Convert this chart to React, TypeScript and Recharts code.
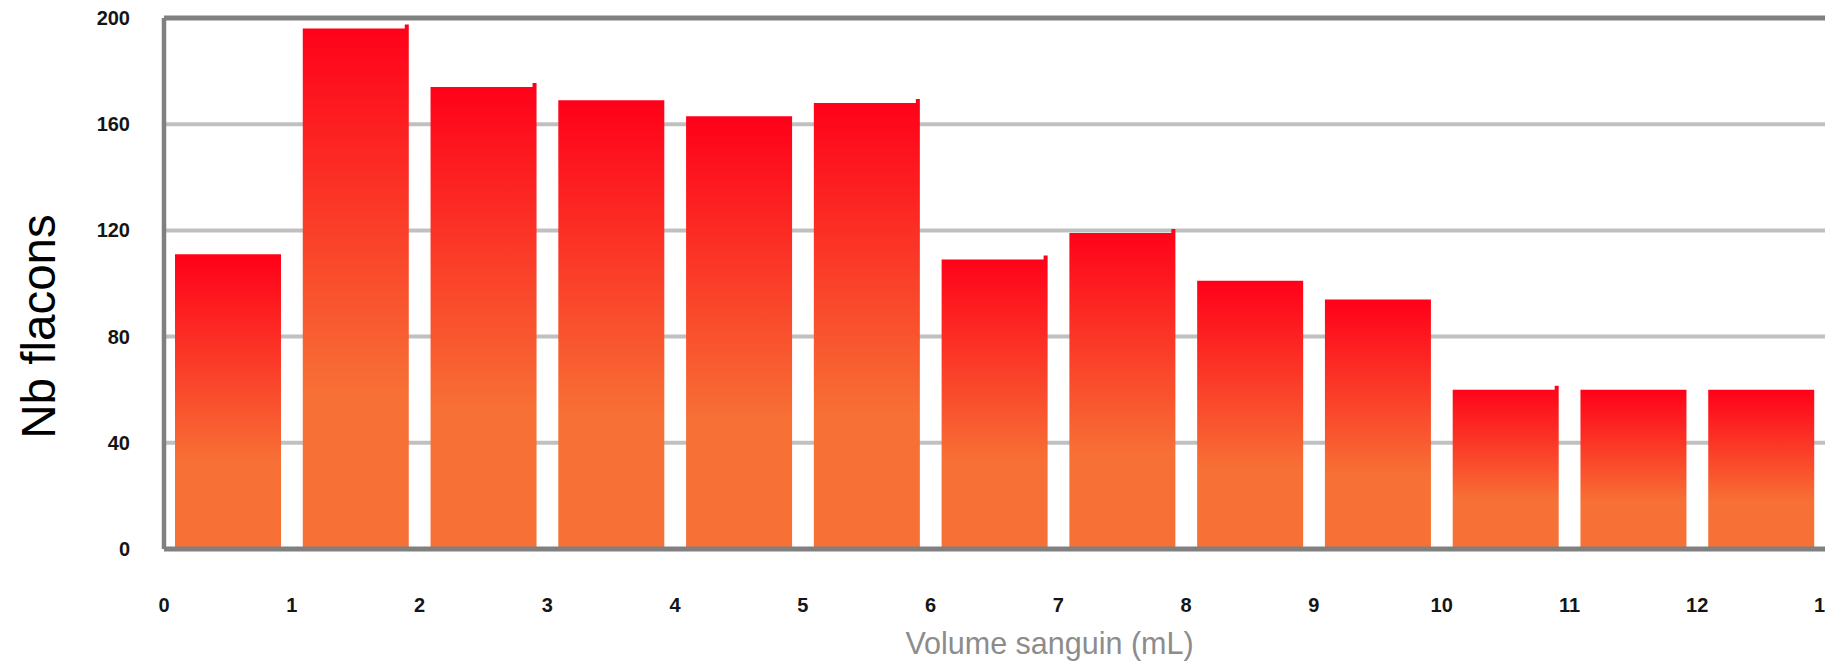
import React from 'react';
import { ComposedChart, Bar, XAxis, YAxis, CartesianGrid, ReferenceLine } from 'recharts';

const categories = ['0-1', '1-2', '2-3', '3-4', '4-5', '5-6', '6-7', '7-8', '8-9', '9-10', '10-11', '11-12', '12-13'];
const binStart = [0, 1, 2, 3, 4, 5, 6, 7, 8, 9, 10, 11, 12];
const counts = [111, 196, 174, 169, 163, 168, 109, 119, 101, 94, 60, 60, 60];
const xTickValues = [0, 1, 2, 3, 4, 5, 6, 7, 8, 9, 10, 11, 12, 13];
const xTickLabels = ['0', '1', '2', '3', '4', '5', '6', '7', '8', '9', '10', '11', '12', '13'];
const yTicks = [0, 40, 80, 120, 160, 200];
const notchedBars = [1, 2, 5, 6, 7, 10];

const xTitle = 'Volume sanguin (mL)';
const yTitle = 'Nb flacons';

const data = categories.map((c, i) => ({ cat: c, mid: binStart[i] + 0.5, count: counts[i] }));

const FONT = '"Liberation Sans", Arial, Helvetica, sans-serif';

const XTick = (props: any) => {
  const { x, y, payload } = props;
  const idx = xTickValues.indexOf(payload.value);
  const label = idx >= 0 ? xTickLabels[idx] : String(payload.value);
  return (
    <text
      x={x}
      y={y}
      textAnchor="middle"
      dominantBaseline="central"
      fontSize={20}
      fontWeight="bold"
      fontFamily={FONT}
      fill="#151515"
      clipPath="url(#tickClip)"
    >
      {label}
    </text>
  );
};

const YTick = (props: any) => {
  const { x, y, payload } = props;
  return (
    <text
      x={x - 16}
      y={y}
      textAnchor="end"
      dominantBaseline="central"
      fontSize={20}
      fontWeight="bold"
      fontFamily={FONT}
      fill="#151515"
    >
      {payload.value}
    </text>
  );
};

const BarShape = (props: any) => {
  const { x, y, width, height, index } = props;
  if (!height || height <= 0) return null;
  const n = notchedBars.includes(index);
  const s = 4;
  const d = n
    ? `M${x},${y + height} L${x},${y} L${x + width - s},${y} L${x + width - s},${y - s} L${x + width},${y - s} L${x + width},${y + height} Z`
    : `M${x},${y + height} L${x},${y} L${x + width},${y} L${x + width},${y + height} Z`;
  return <path d={d} fill="url(#barGrad)" />;
};

export default function App() {
  return (
    <ComposedChart
      width={1829}
      height={654}
      data={data}
      margin={{ top: 10, right: 12, bottom: 0, left: 0 }}
      barCategoryGap={11}
    >
      <defs>
        <linearGradient id="barGrad" x1="0" y1="0" x2="0" y2="1">
          <stop offset="0" stopColor="#ff0019" />
          <stop offset="0.7" stopColor="#f77035" />
          <stop offset="1" stopColor="#f77035" />
        </linearGradient>
        <clipPath id="tickClip">
          <rect x={0} y={0} width={1817} height={654} />
        </clipPath>
      </defs>
      <CartesianGrid xAxisId="num" vertical={false} stroke="#c0c0c0" strokeWidth={4} />
      <XAxis xAxisId="cat" dataKey="cat" hide orientation="top" height={0} />
      <XAxis
        xAxisId="num"
        dataKey="mid"
        type="number"
        domain={[0, 13]}
        allowDataOverflow={true}
        ticks={xTickValues}
        interval={0}
        height={113}
        tickSize={0}
        tickMargin={56}
        tickLine={false}
        axisLine={{ stroke: '#808080', strokeWidth: 5 }}
        tick={<XTick />}
        label={{
          content: (p: any) => {
            const vb = p.viewBox;
            return (
              <text
                x={vb.x + vb.width / 2 + 55}
                y={vb.y + 94}
                textAnchor="middle"
                dominantBaseline="central"
                fontSize={30.5}
                fontFamily={FONT}
                fill="#8c8c8c"
              >
                {xTitle}
              </text>
            );
          },
        }}
      />
      <YAxis
        domain={[0, 200]}
        ticks={yTicks}
        width={156}
        tickSize={0}
        tickMargin={18}
        tickLine={false}
        axisLine={{ stroke: '#808080', strokeWidth: 4.5 }}
        tick={<YTick />}
        label={{
          content: (p: any) => {
            const vb = p.viewBox;
            const cx = vb.x + 30;
            const cy = vb.y + vb.height / 2 + 43;
            return (
              <text
                x={cx}
                y={cy}
                transform={`rotate(-90, ${cx}, ${cy})`}
                textAnchor="middle"
                dominantBaseline="central"
                fontSize={47.5}
                fontFamily={FONT}
                fill="#000"
              >
                {yTitle}
              </text>
            );
          },
        }}
      />
      <ReferenceLine xAxisId="num" y={200} stroke="#808080" strokeWidth={5} />
      <Bar xAxisId="cat" dataKey="count" shape={<BarShape />} isAnimationActive={false} />
    </ComposedChart>
  );
}
